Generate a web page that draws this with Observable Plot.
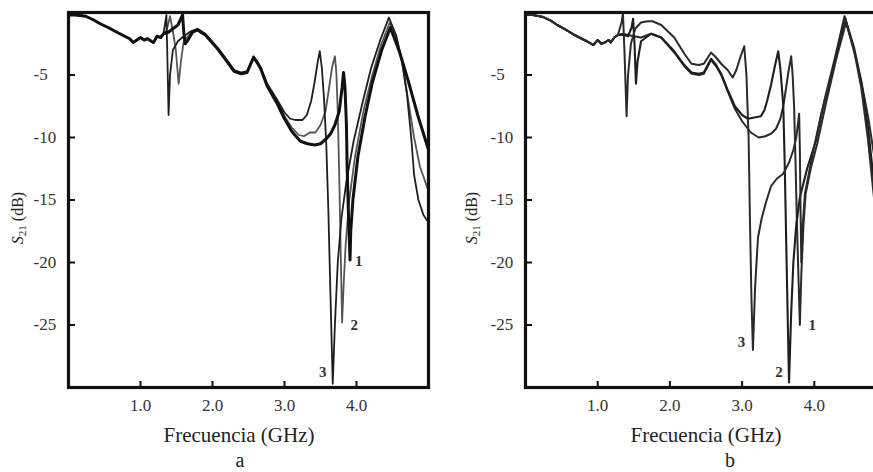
<!DOCTYPE html>
<html><head><meta charset="utf-8">
<script src="https://cdn.jsdelivr.net/npm/d3@7"></script>
<script src="https://cdn.jsdelivr.net/npm/@observablehq/plot@0.6"></script>
<style>
html,body{margin:0;padding:0;overflow:hidden;background:#fff;width:873px;height:472px}
#root{position:relative;width:873px;height:472px;overflow:hidden;font-family:"Liberation Serif",serif;color:#222}
.panel{position:absolute;top:0}
.xlabel{position:absolute;font-size:21px;line-height:16px;white-space:nowrap;transform:translateX(-50%)}
.sub{font-size:20px}
.ylabel{position:absolute;font-size:16px;line-height:16px;white-space:nowrap;transform:translate(-50%,-50%) rotate(-90deg)}
.ylabel sub{font-size:11px;vertical-align:-3px}
</style></head>
<body><div id="root"></div>
<script>
// ---- data ----
const xTicks = [1, 2, 3, 4];
const yTicks = [-5, -10, -15, -20, -25];
const xTickLabels = ["1.0", "2.0", "3.0", "4.0"];

const startA = [[0,-0.2],[0.1,-0.2],[0.24,-0.3],[0.35,-0.6],[0.44,-0.9],[0.55,-1.2],[0.68,-1.6],[0.78,-1.9],[0.85,-2.1],[0.9,-2.4],[0.95,-2.2],[1.0,-2.0],[1.05,-2.2],[1.1,-2.1],[1.15,-2.3],[1.18,-2.4],[1.23,-1.9],[1.28,-2.0],[1.32,-1.7]];
const a1 = [...startA,[1.38,-1.6],[1.45,-1.3],[1.52,-1.0],[1.56,-0.5],[1.585,-0.2],[1.6,-1.5],[1.62,-2.5],[1.66,-2.2],[1.72,-1.6],[1.79,-1.4],[1.9,-1.8],[2.07,-2.9],[2.2,-3.9],[2.3,-4.7],[2.4,-4.9],[2.48,-4.8],[2.57,-3.6],[2.62,-4.0],[2.67,-4.5],[2.76,-5.9],[2.9,-7.3],[3.0,-8.5],[3.1,-9.5],[3.22,-10.3],[3.32,-10.5],[3.42,-10.6],[3.5,-10.5],[3.58,-10.1],[3.64,-9.7],[3.7,-9],[3.76,-7.9],[3.8,-6],[3.82,-4.8],[3.84,-6],[3.86,-9],[3.87,-12.4],[3.89,-16.5],[3.91,-19.8],[3.92,-17.5],[3.95,-15],[4.02,-11.5],[4.12,-8.3],[4.22,-5.6],[4.35,-3],[4.47,-1.2],[4.6,-3.2],[4.72,-5.5],[4.85,-8.2],[5.0,-11]];
const a2 = [...startA,[1.36,-1.5],[1.41,-0.3],[1.45,-1.5],[1.49,-3],[1.53,-5.7],[1.56,-4],[1.6,-2.3],[1.66,-1.9],[1.72,-1.5],[1.8,-1.35],[1.9,-1.7],[2.07,-2.9],[2.2,-3.9],[2.3,-4.7],[2.4,-4.9],[2.48,-4.8],[2.57,-3.6],[2.62,-4.0],[2.67,-4.5],[2.76,-5.8],[2.9,-7.2],[3.0,-8.3],[3.1,-9.2],[3.2,-9.8],[3.27,-9.9],[3.35,-9.6],[3.43,-9.6],[3.5,-9.0],[3.57,-7.9],[3.62,-6],[3.66,-4.4],[3.7,-3.5],[3.72,-4.8],[3.74,-8],[3.76,-13],[3.78,-19],[3.8,-24.8],[3.82,-22],[3.85,-18.5],[3.9,-15],[3.98,-11.5],[4.1,-7.8],[4.22,-5],[4.34,-2.6],[4.46,-0.8],[4.56,-2.2],[4.64,-4.2],[4.72,-7.1],[4.8,-10],[4.88,-12.3],[5.0,-14.3]];
const a3 = [...startA,[1.36,-0.2],[1.375,-4],[1.39,-8.2],[1.41,-5],[1.45,-3],[1.52,-2.3],[1.6,-1.9],[1.7,-1.5],[1.79,-1.3],[1.9,-1.7],[2.07,-2.8],[2.2,-3.8],[2.3,-4.6],[2.4,-4.8],[2.48,-4.7],[2.57,-3.5],[2.62,-3.9],[2.67,-4.4],[2.76,-5.7],[2.9,-7.0],[3.0,-8.0],[3.08,-8.5],[3.15,-8.6],[3.25,-8.6],[3.31,-8.2],[3.37,-7.1],[3.42,-5.5],[3.46,-4.0],[3.49,-3.1],[3.52,-4.5],[3.55,-7],[3.58,-10.5],[3.61,-16],[3.64,-23],[3.67,-29.7],[3.7,-25],[3.74,-20],[3.79,-16.5],[3.86,-13.5],[3.96,-10.3],[4.08,-7.3],[4.2,-4.5],[4.33,-2.2],[4.45,-0.4],[4.55,-1.8],[4.63,-3.8],[4.7,-6.5],[4.76,-10],[4.8,-13],[4.86,-15],[4.93,-16.2],[5.0,-16.8]];

const startB = [[0,-0.2],[0.1,-0.2],[0.24,-0.35],[0.35,-0.65],[0.44,-1.0],[0.55,-1.35],[0.68,-1.8],[0.78,-2.1],[0.85,-2.3],[0.94,-2.6],[1.0,-2.2],[1.05,-2.5],[1.1,-2.4],[1.15,-2.2],[1.18,-2.4],[1.23,-2.0],[1.28,-1.8]];
const b1 = [...startB,[1.35,-1.7],[1.42,-1.8],[1.5,-1.9],[1.6,-2.0],[1.74,-1.7],[1.88,-2.0],[2.06,-3.2],[2.2,-4.3],[2.3,-4.9],[2.4,-5.0],[2.47,-4.9],[2.57,-3.8],[2.64,-4.3],[2.71,-5.0],[2.8,-6.3],[2.9,-7.7],[3.0,-8.7],[3.12,-9.6],[3.23,-10.0],[3.32,-9.9],[3.4,-9.7],[3.47,-9.3],[3.53,-8.5],[3.57,-7.5],[3.61,-6],[3.64,-4.8],[3.68,-3.5],[3.7,-5],[3.72,-7.5],[3.74,-12],[3.76,-17],[3.78,-21],[3.8,-25],[3.82,-21],[3.85,-17],[3.88,-14.5],[3.95,-12.5],[4.04,-10.5],[4.16,-7.3],[4.3,-3.8],[4.44,-0.8],[4.56,-3.3],[4.66,-5.8],[4.75,-8.5],[4.83,-11.5],[4.92,-13.5],[5.0,-15]];
const b2 = [...startB,[1.35,-1.8],[1.42,-1.9],[1.47,-1.2],[1.49,-0.5],[1.51,-2.5],[1.53,-5.7],[1.55,-4],[1.6,-2.3],[1.74,-1.7],[1.88,-2.0],[2.06,-3.1],[2.2,-4.2],[2.3,-4.8],[2.4,-4.9],[2.47,-4.8],[2.57,-3.7],[2.64,-4.2],[2.71,-4.9],[2.8,-6.2],[2.9,-7.5],[3.0,-8.2],[3.08,-8.5],[3.17,-8.4],[3.26,-8.3],[3.31,-7.8],[3.35,-7.0],[3.4,-5.8],[3.45,-4.4],[3.5,-3.1],[3.53,-4.5],[3.57,-7.4],[3.59,-12],[3.61,-18],[3.63,-24],[3.65,-29.6],[3.68,-24],[3.71,-20],[3.75,-17],[3.8,-14.8],[3.9,-12.5],[4.02,-10.3],[4.15,-6.8],[4.28,-3.8],[4.42,-0.3],[4.55,-2.8],[4.65,-5.5],[4.75,-9.5],[4.83,-13.8],[5.0,-16]];
const b3 = [...startB,[1.33,-0.8],[1.35,-0.1],[1.37,-3],[1.4,-8.3],[1.42,-5],[1.46,-2.5],[1.52,-1.3],[1.6,-0.8],[1.69,-0.7],[1.76,-0.7],[1.88,-1.0],[2.06,-2.0],[2.2,-3.3],[2.3,-4.1],[2.4,-4.2],[2.47,-4.1],[2.57,-3.2],[2.64,-3.6],[2.71,-4.1],[2.8,-4.6],[2.87,-5.2],[2.92,-4.6],[2.98,-3.5],[3.03,-2.7],[3.06,-5],[3.09,-10],[3.11,-17],[3.13,-23],[3.15,-27],[3.18,-22],[3.22,-18],[3.27,-16.5],[3.33,-15.2],[3.4,-13.9],[3.48,-13.3],[3.57,-12.9],[3.65,-12],[3.71,-11],[3.75,-10],[3.79,-8.1],[3.8,-11],[3.81,-16],[3.82,-20],[3.84,-17],[3.87,-14.5],[3.97,-11.5],[4.1,-8],[4.25,-4.8],[4.43,-0.5],[4.55,-3],[4.65,-6],[4.74,-10],[4.83,-15],[5.0,-18]];

const labelsA = [{f:4.03,s:-19.9,t:"1"},{f:3.97,s:-25.0,t:"2"},{f:3.53,s:-28.8,t:"3"}];
const labelsB = [{f:3.97,s:-25.0,t:"1"},{f:3.51,s:-28.8,t:"2"},{f:2.99,s:-26.4,t:"3"}];

// ---- drawing ----
const H = 420, MT = 12, MB = 33, MR = 12;
function panel(series, labels, width, marginLeft) {
  const innerW = width - marginLeft - MR, innerH = H - MT - MB;
  const marks = [
    ...series.map(([data, stroke, sw]) => Plot.line(data, {x: d => d[0], y: d => d[1], stroke, strokeWidth: sw, strokeLinejoin: "round", clip: true})),
    Plot.tickX(xTicks, {x: d => d, insetTop: innerH - 6, stroke: "#111", strokeWidth: 2}),
    Plot.tickY(yTicks, {y: d => d, insetRight: innerW - 7, stroke: "#111", strokeWidth: 2}),
    Plot.axisX({ticks: xTicks, tickSize: 0, tickPadding: 11, tickFormat: (d, i) => xTickLabels[i], label: null, fill: "#333"}),
    Plot.axisY({ticks: yTicks, tickSize: 0, tickPadding: 35, textAnchor: "start", tickFormat: d => String(d), label: null, fill: "#333"}),
    Plot.text(labels, {x: "f", y: "s", text: "t", fontWeight: "bold", fontSize: 15, fill: "#333"}),
    Plot.frame({stroke: "#111", strokeWidth: 3.2})
  ];
  return Plot.plot({
    width, height: H, marginLeft, marginRight: MR, marginTop: MT, marginBottom: MB,
    x: {domain: [0, 5]}, y: {domain: [-30, 0]},
    style: {fontFamily: "Liberation Serif, serif", fontSize: "17px", background: "transparent", overflow: "visible"},
    marks
  });
}

const root = document.getElementById("root");
function place(el, left) { el.classList.add("panel"); el.style.left = left + "px"; root.appendChild(el); }

place(panel([[a2, "#555", 1.8], [a3, "#1e1e1e", 1.8], [a1, "#111", 3]], labelsA, 440, 68), 0);
place(panel([[b1, "#2a2a2a", 2], [b2, "#1e1e1e", 2.1], [b3, "#2a2a2a", 2]], labelsB, 458, 85), 440);

function label(html, cls, left, top) {
  const d = document.createElement("div"); d.className = cls; d.innerHTML = html;
  d.style.left = left + "px"; d.style.top = top + "px"; root.appendChild(d);
}
label("Frecuencia (GHz)", "xlabel", 239, 427);
label("a", "xlabel sub", 240, 452);
label("Frecuencia (GHz)", "xlabel", 706, 427);
label("b", "xlabel sub", 730, 452);
label("<i>S</i><sub>21</sub> (dB)", "ylabel", 20, 218);
label("<i>S</i><sub>21</sub> (dB)", "ylabel", 474, 218);
</script>
</body></html>
